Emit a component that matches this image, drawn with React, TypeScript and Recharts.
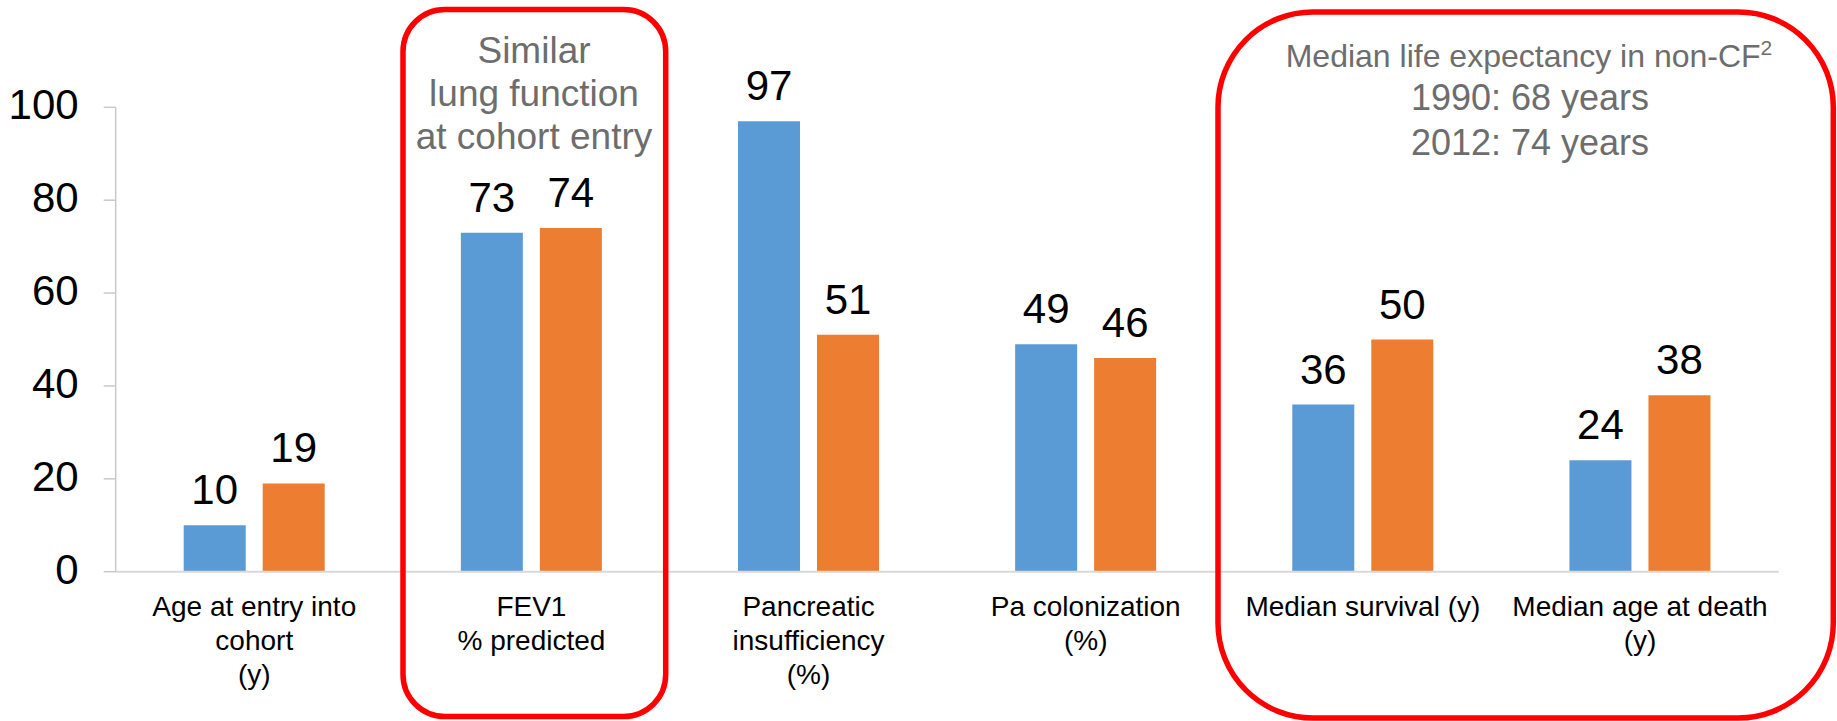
import React from 'react';
import { BarChart, Bar, XAxis, YAxis, LabelList } from 'recharts';

const categories = [
  'Age at entry into\ncohort\n(y)',
  'FEV1\n% predicted',
  'Pancreatic\ninsufficiency\n(%)',
  'Pa colonization\n(%)',
  'Median survival (y)',
  'Median age at death\n(y)',
];
const blueValues = [10, 73, 97, 49, 36, 24];
const orangeValues = [19, 74, 51, 46, 50, 38];
const yTicks = [0, 20, 40, 60, 80, 100];

const similarNote = ['Similar', 'lung function', 'at cohort entry'];
const lifeNote = ['1990: 68 years', '2012: 74 years'];

const FONT = '"Liberation Sans", Arial, sans-serif';
const BLUE = '#5B9BD5';
const ORANGE = '#ED7D31';
const NOTE_GRAY = '#6d6d6d';

const data = categories.map((name, i) => ({
  name,
  blue: blueValues[i],
  orange: orangeValues[i],
}));

const CategoryTick = ({ x, y, payload }: any) => {
  const lines = String(payload.value).split('\n');
  return (
    <text x={x} y={y + 44} textAnchor="middle" fontSize={28} fill="#000" fontFamily={FONT}>
      {lines.map((line, i) => (
        <tspan key={i} x={x} dy={i === 0 ? 0 : 34}>
          {line}
        </tspan>
      ))}
    </text>
  );
};

const ValueTick = ({ x, y, payload }: any) => (
  <text x={x} y={y + 12} textAnchor="end" fontSize={42} fill="#000" fontFamily={FONT}>
    {payload.value}
  </text>
);

const App: React.FC = () => {
  return (
    <div style={{ position: 'absolute', left: 0, top: 0, width: 1837, height: 721, background: '#fff' }}>
      <BarChart
        width={1837}
        height={721}
        data={data}
        margin={{ top: 107.3, right: 58.4, bottom: 9.3, left: 0 }}
        barSize={62}
        barGap={17}
      >
        <XAxis
          dataKey="name"
          height={140}
          tickLine={false}
          tickSize={0}
          tickMargin={0}
          axisLine={{ stroke: '#d9d9d9', strokeWidth: 2 }}
          tick={<CategoryTick />}
          interval={0}
        />
        <YAxis
          width={115.7}
          domain={[0, 100]}
          ticks={yTicks}
          tickSize={12}
          tickMargin={25}
          axisLine={{ stroke: '#c9c9c9', strokeWidth: 1.5 }}
          tickLine={{ stroke: '#c9c9c9', strokeWidth: 1.5 }}
          tick={<ValueTick />}
        />
        <Bar dataKey="blue" fill={BLUE} isAnimationActive={false}>
          <LabelList dataKey="blue" position="top" offset={21} fontSize={42} fill="#000" fontFamily={FONT} />
        </Bar>
        <Bar dataKey="orange" fill={ORANGE} isAnimationActive={false}>
          <LabelList dataKey="orange" position="top" offset={21} fontSize={42} fill="#000" fontFamily={FONT} />
        </Bar>
      </BarChart>

      <svg
        width={1837}
        height={721}
        style={{ position: 'absolute', left: 0, top: 0, pointerEvents: 'none' }}
      >
        <rect x={403} y={9.5} width={262.7} height={707} rx={42} ry={42} fill="none" stroke="#ff0000" strokeWidth={5.5} />
        <rect x={1218} y={12} width={615.3} height={706} rx={95} ry={95} fill="none" stroke="#ff0000" strokeWidth={5.5} />

        <text x={534} y={62.7} textAnchor="middle" fontSize={37} fill={NOTE_GRAY} fontFamily={FONT}>
          {similarNote.map((line, i) => (
            <tspan key={i} x={534} dy={i === 0 ? 0 : 43}>
              {line}
            </tspan>
          ))}
        </text>

        <text x={1529} y={66.7} textAnchor="middle" fontSize={32} fill={NOTE_GRAY} fontFamily={FONT}>
          Median life expectancy in non-CF
          <tspan fontSize={21} dy={-12}>2</tspan>
        </text>
        <text x={1530} y={110} textAnchor="middle" fontSize={36} fill={NOTE_GRAY} fontFamily={FONT}>
          {lifeNote.map((line, i) => (
            <tspan key={i} x={1530} dy={i === 0 ? 0 : 45}>
              {line}
            </tspan>
          ))}
        </text>
      </svg>
    </div>
  );
};

export default App;
